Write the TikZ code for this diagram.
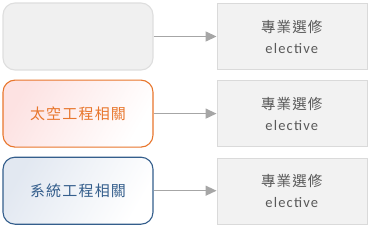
\documentclass[tikz,border=0pt]{standalone}
\usepackage{fontspec}
\setmainfont[LetterSpace=8]{Carlito}
\newfontfamily\cjk[LetterSpace=8]{Noto Sans CJK TC}
\usetikzlibrary{arrows.meta,positioning}
\definecolor{cPlain}{RGB}{240,240,240}
\definecolor{cPlainLine}{RGB}{222,222,222}
\definecolor{cSpace}{RGB}{232,118,44}
\definecolor{cSpaceFill}{RGB}{253,226,226}
\definecolor{cSys}{RGB}{52,94,140}
\definecolor{cSysFill}{RGB}{226,232,241}
\definecolor{cElec}{RGB}{242,242,242}
\definecolor{cElecLine}{RGB}{218,218,218}
\definecolor{cText}{RGB}{89,89,89}
\definecolor{cArr}{RGB}{166,166,166}
\tikzset{
  grp/.style={rounded corners=12pt, minimum width=150pt, minimum height=67pt,
              line width=1.1pt, align=center, font=\cjk\fontsize{15}{18}\selectfont},
  grpplain/.style={grp, draw=cPlainLine, fill=cPlain},
  grpspace/.style={grp, draw=cSpace, text=cSpace, shading=axis,
                   top color=cSpaceFill, bottom color=white, shading angle=60},
  grpsys/.style={grp, draw=cSys, text=cSys, shading=axis,
                 top color=cSysFill, bottom color=white, shading angle=60},
  elec/.style={draw=cElecLine, fill=cElec, minimum width=150pt, minimum height=66pt,
               align=center, text=cText, font=\fontsize{14.5}{21}\selectfont},
  arr/.style={-{Triangle[length=11pt,width=10pt]}, draw=cArr, line width=1.4pt},
}
\newcommand{\elecText}{{\cjk 專業選修}\\ elective}

\begin{document}
\begin{tikzpicture}[x=1pt, y=1pt, node distance=9pt and 63pt]
  \useasboundingbox (0,0) rectangle (371,-230);
  \node[grpplain] at (78,-36.5) (plain) {};
  \node[grpspace, below=of plain] (space) {太空工程相關};
  \node[grpsys, below=of space] (sys) {系統工程相關};
  \node[elec, right=of plain] (elec1) {\elecText};
  \node[elec, right=of space] (elec2) {\elecText};
  \node[elec, right=of sys] (elec3) {\elecText};
  \draw[arr] (plain) -- (elec1);
  \draw[arr] (space) -- (elec2);
  \draw[arr] (sys) -- (elec3);
\end{tikzpicture}
\end{document}
